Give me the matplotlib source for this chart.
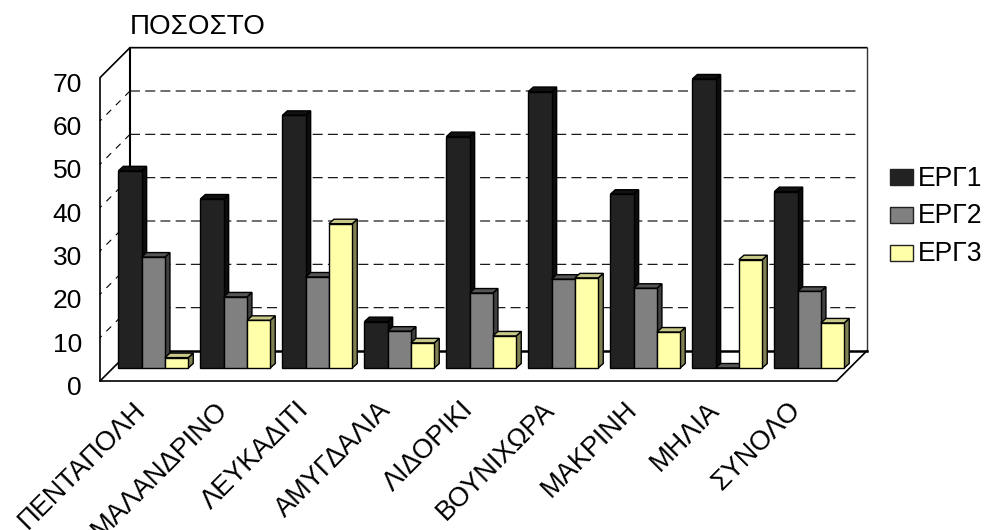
import matplotlib
matplotlib.use("Agg")
import matplotlib.pyplot as plt
from matplotlib.patches import Polygon, Rectangle

plt.rcParams['font.family'] = ['Liberation Sans', 'DejaVu Sans']

categories = ["ΠΕΝΤΑΠΟΛΗ", "ΜΑΛΑΝΔΡΙΝΟ", "ΛΕΥΚΑΔΙΤΙ", "ΑΜΥΓΔΑΛΙΑ", "ΛΙΔΟΡΙΚΙ",
              "ΒΟΥΝΙΧΩΡΑ", "ΜΑΚΡΙΝΗ", "ΜΗΛΙΑ", "ΣΥΝΟΛΟ"]
erg1 = [45.5, 39.0, 58.3, 10.7, 53.4, 63.8, 40.1, 66.7, 40.7]
erg2 = [25.6, 16.4, 21.0, 8.5, 17.3, 20.5, 18.4, 0.0, 17.7]
erg3 = [2.4, 11.0, 33.3, 5.8, 7.4, 20.8, 8.3, 25.0, 10.4]
series_names = ["ΕΡΓ1", "ΕΡΓ2", "ΕΡΓ3"]
y_ticks = [0, 10, 20, 30, 40, 50, 60, 70]

# face, side and top shades for each series
shades = [("#222222", "#0d0d0d", "#111111"),
          ("#808080", "#404040", "#555555"),
          ("#ffffaa", "#808055", "#c8c888")]

W, H = 985, 530
GROUP_PX = 82.0     # one category step
UNIT_PX = 4.3333    # one percent
X0_PX = 153.3       # centre of first group
Y0_PX = 368.0       # base of the bars

BAR_W = 23.3 / GROUP_PX
DEPTH_X = 5.0 / GROUP_PX
DEPTH_Y = 4.5 / UNIT_PX

# floor corners relative to the bar plane
FRONT_X = (100 - X0_PX) / GROUP_PX
BACK_X = (130 - X0_PX) / GROUP_PX
FRONT_R = (836.7 - X0_PX) / GROUP_PX
BACK_R = (866.7 - X0_PX) / GROUP_PX
GRID_END = (860 - X0_PX) / GROUP_PX
FRONT_Y = (Y0_PX - 381) / UNIT_PX
BACK_Y = (Y0_PX - 351) / UNIT_PX
TOP_VAL = y_ticks[-1]

fig = plt.figure(figsize=(W / 100, H / 100), dpi=100)
ax = fig.add_axes([0, 0, 1, 1])
ax.set_xlim(-X0_PX / GROUP_PX, (W - X0_PX) / GROUP_PX)
ax.set_ylim((Y0_PX - H) / UNIT_PX, Y0_PX / UNIT_PX)
ax.axis("off")

# dashed grid on back and side walls
for v in y_ticks[1:-1]:
    ax.plot([BACK_X, GRID_END], [BACK_Y + v, BACK_Y + v], color="black", lw=0.8,
            dashes=(9, 4.7), snap=False, zorder=1)
    ax.plot([BACK_X, FRONT_X], [BACK_Y + v, FRONT_Y + v], color="black", lw=0.8,
            dashes=(6, 6), zorder=1)

# wall outline
ax.plot([BACK_X, BACK_X], [BACK_Y, BACK_Y + TOP_VAL], color="black", lw=1.5, zorder=1)
ax.plot([FRONT_X, FRONT_X, BACK_X, BACK_R], [FRONT_Y, FRONT_Y + TOP_VAL, BACK_Y + TOP_VAL, BACK_Y + TOP_VAL],
        color="black", lw=1.2, zorder=1)
ax.plot([BACK_R, BACK_R], [BACK_Y, BACK_Y + TOP_VAL], color="#333333", lw=1.0, zorder=1)

# floor
ax.plot([BACK_X, BACK_R], [BACK_Y, BACK_Y], color="black", lw=1.8, zorder=1)
ax.plot([BACK_X, FRONT_X, FRONT_R, BACK_R], [BACK_Y, FRONT_Y, FRONT_Y, BACK_Y],
        color="black", lw=1.2, zorder=1)


def draw_bar(left, value, colors, z):
    face, side, top = colors
    right = left + BAR_W
    ax.add_patch(Polygon([(right, 0), (right + DEPTH_X, DEPTH_Y),
                          (right + DEPTH_X, value + DEPTH_Y), (right, value)],
                         facecolor=side, edgecolor="black", lw=1.0, zorder=z))
    ax.add_patch(Polygon([(left, value), (left + DEPTH_X, value + DEPTH_Y),
                          (right + DEPTH_X, value + DEPTH_Y), (right, value)],
                         facecolor=top, edgecolor="black", lw=1.0, zorder=z))
    ax.add_patch(Rectangle((left, 0), BAR_W, value, facecolor=face,
                           edgecolor="black", lw=1.0, zorder=z + 0.1))


for i in range(len(categories)):
    for j, values in enumerate([erg1, erg2, erg3]):
        left = i - 1.5 * BAR_W + j * BAR_W
        draw_bar(left, values[i], shades[j], 3 + i + j * 0.2)

# y tick labels along the front edge
for v in y_ticks:
    ax.text((82 - X0_PX) / GROUP_PX, FRONT_Y + v - 7 / UNIT_PX, str(v), ha="right", va="center",
            fontsize=19)

ax.text(BACK_X, (Y0_PX - 27) / UNIT_PX, "ΠΟΣΟΣΤΟ", ha="left", va="center", fontsize=20)

# slanted category names
for i, name in enumerate(categories):
    ax.text(i - 12 / GROUP_PX, FRONT_Y - 25 / UNIT_PX, name, rotation=45, ha="right", va="center",
            rotation_mode="anchor", fontsize=19.5)

# legend
legend_x = (890 - X0_PX) / GROUP_PX
for j, name in enumerate(series_names):
    y_px = 177 + j * 37.8
    ax.add_patch(Rectangle((legend_x, (Y0_PX - y_px - 8) / UNIT_PX), 23 / GROUP_PX, 16 / UNIT_PX,
                           facecolor=shades[j][0], edgecolor="#222222", lw=1.0, zorder=3))
    ax.text((918 - X0_PX) / GROUP_PX, (Y0_PX - y_px - 1.5) / UNIT_PX, name, ha="left", va="center",
            fontsize=19.1)

fig.savefig("out.png", dpi=100)
